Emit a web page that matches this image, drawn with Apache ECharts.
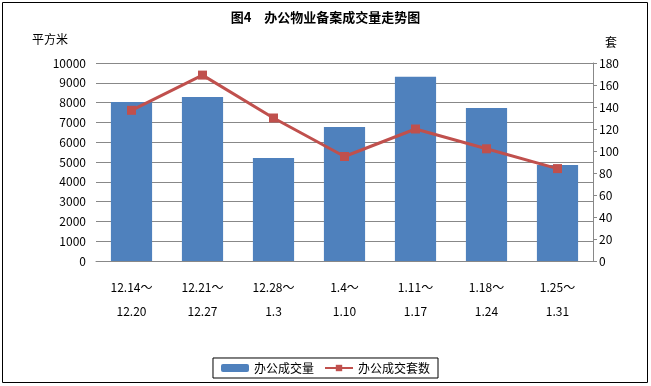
<!DOCTYPE html>
<html><head><meta charset="utf-8">
<script src="https://cdn.jsdelivr.net/npm/echarts@6/dist/echarts.min.js"></script>
<style>html,body{margin:0;padding:0;background:#fff}#c{width:651px;height:386px}</style>
</head><body><div id="c"></div>
<script>
var categories = ['12.14～\n12.20','12.21～\n12.27','12.28～\n1.3','1.4～\n1.10','1.11～\n1.17','1.18～\n1.24','1.25～\n1.31'];
var areaValues = [8030, 8280, 5200, 6770, 9310, 7730, 4850];
var countValues = [137, 169, 130, 95, 120, 102, 84];
var leftTicks = {min: 0, max: 10000, interval: 1000};
var rightTicks = {min: 0, max: 180, interval: 20};
var font = '"Noto Sans CJK SC", "DejaVu Sans", sans-serif';
var chart = echarts.init(document.getElementById('c'));
chart.setOption({
  animation: false,
  textStyle: {fontFamily: font},
  graphic: [
    {type: 'rect', shape: {x: 2.5, y: 2.5, width: 645, height: 380}, style: {fill: 'none', stroke: '#000', lineWidth: 1}, silent: true},
    {type: 'text', left: 'center', top: 11, style: {text: '图4　办公物业备案成交量走势图', font: 'bold 13px ' + font, fill: '#000'}},
    {type: 'text', left: 32, top: 33, style: {text: '平方米', font: '12px ' + font, fill: '#000'}},
    {type: 'text', left: 605, top: 36, style: {text: '套', font: '12px ' + font, fill: '#000'}}
  ],
  grid: {left: 96, right: 58, top: 63, bottom: 125},
  legend: {
    bottom: 8, left: 'center',
    borderColor: '#000', borderWidth: 1, padding: [4, 8, 4, 8],
    itemWidth: 28, itemHeight: 8, itemGap: 10,
    textStyle: {fontSize: 12, color: '#000', fontFamily: font},
    data: ['办公成交量', '办公成交套数']
  },
  xAxis: {
    type: 'category', data: categories,
    axisLine: {lineStyle: {color: '#888'}},
    axisTick: {show: false},
    axisLabel: {color: '#000', fontSize: 12, lineHeight: 24, margin: 14, interval: 0}
  },
  yAxis: [
    {type: 'value', min: leftTicks.min, max: leftTicks.max, interval: leftTicks.interval,
     axisLine: {show: false}, axisTick: {show: false},
     splitLine: {lineStyle: {color: '#888'}},
     axisLabel: {color: '#000', fontSize: 12, margin: 10, formatter: function (v) { return String(v); }}},
    {type: 'value', min: rightTicks.min, max: rightTicks.max, interval: rightTicks.interval,
     position: 'right',
     axisLine: {show: true, lineStyle: {color: '#888'}},
     axisTick: {show: true, length: 4, lineStyle: {color: '#888'}},
     splitLine: {show: false},
     axisLabel: {color: '#000', fontSize: 12, margin: 6}}
  ],
  series: [
    {name: '办公成交量', type: 'bar', data: areaValues, barWidth: '58%',
     itemStyle: {color: '#4F81BD'}},
    {name: '办公成交套数', type: 'line', yAxisIndex: 1, data: countValues,
     symbol: 'rect', symbolSize: 9,
     lineStyle: {color: '#C0504D', width: 3},
     itemStyle: {color: '#C0504D'}}
  ]
});
</script></body></html>
